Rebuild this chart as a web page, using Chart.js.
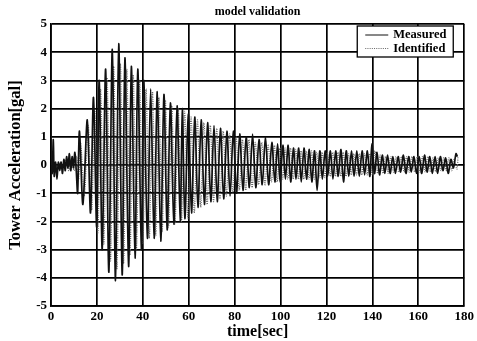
<!DOCTYPE html>
<html>
<head>
<meta charset="utf-8">
<script src="https://cdn.jsdelivr.net/npm/chart.js@4"></script>
<style>
  html, body { margin: 0; padding: 0; background: #fff; }
  #wrap { width: 477px; height: 341px; }
</style>
</head>
<body>
<div id="wrap"><canvas id="grafica" width="477" height="341"></canvas></div>
<script>
// -------------------------
// Datos (extremos)
// -------------------------
const titulo = "model validation";
const etiquetasSerie = ["Measured", "Identified"];
const ticksX = [0, 20, 40, 60, 80, 100, 120, 140, 160, 180];
const ticksY = [-5, -4, -3, -2, -1, 0, 1, 2, 3, 4, 5];

const tiempoMedido = [
  0, 0.5, 1.0, 1.4, 2.0, 2.6, 3.2, 3.8, 4.4, 5.0, 5.6, 6.2, 6.8, 7.4, 8.0, 8.6, 9.2, 9.8, 10.4, 11.0,
  11.6, 12.4, 13.9, 15.8, 17.2, 18.5, 19.9, 21.0, 22.3, 23.8, 25.2, 26.7, 28.1, 29.5, 31.0, 32.2,
  33.8, 35.0, 36.6, 37.8, 39.4, 40.4, 42.0, 43.4, 44.9, 46.3, 47.8, 49.2, 50.6, 52.0, 53.5, 54.9,
  56.3, 57.2, 58.3, 59.8, 61.2, 62.6, 64.0, 65.4, 66.8, 68.2, 69.6, 71.0, 72.4, 73.8, 75.2, 76.6,
  78.0, 79.4, 80.8, 82.2, 83.6, 85.0, 86.4, 87.8, 89.2, 90.6, 92.0, 93.4, 94.8, 96.2, 97.5, 98.7,
  99.8, 101.0, 102.1, 103.3, 104.4, 105.6, 106.7, 107.9, 109.0, 110.2, 111.3, 112.5, 113.6, 114.8,
  115.9, 117.1, 118.2, 119.4, 120.5, 121.7, 122.8, 124.0, 125.1, 126.3, 127.4, 128.6, 129.7, 130.9,
  132.0, 133.2, 134.3, 135.5, 136.6, 137.8, 138.9, 139.8, 140.9, 142.0, 143.1, 144.3, 145.4, 146.6,
  147.7, 148.9, 150.0, 151.2, 152.3, 153.5, 154.6, 155.8, 156.9, 158.1, 159.2, 160.4, 161.5, 162.7,
  163.8, 165.0, 166.1, 167.3, 168.4, 169.6, 170.7, 171.9, 173.0, 174.2, 175.3, 176.4, 177.0
];
const valorMedido = [
  0, -0.3, 0.9, -0.4, 0.1, -0.5, 0.1, -0.2, 0.1, -0.3, 0.2, -0.2, 0.3, -0.1, 0.4, -0.2, 0.3, -0.1, 0.45, -0.2,
  -1.0, 1.2, -1.4, 1.6, -1.7, 2.4, -2.2, 3.0, -3.0, 3.4, -3.8, 4.1, -4.1, 4.3, -3.9, 3.8,
  -3.6, 3.5, -3.3, 3.4, -3.0, 3.0, -2.6, 2.7, -2.6, 2.6, -2.7, 2.5, -2.3, 2.2, -2.1, 2.1,
  -2.0, 2.0, -1.9, 1.8, -1.7, 1.7, -1.5, 1.6, -1.4, 1.5, -1.3, 1.4, -1.3, 1.3, -1.2, 1.2,
  -1.1, 1.2, -1.0, 1.1, -0.9, 1.0, -0.8, 1.1, -0.8, 0.9, -0.7, 1.0, -0.7, 0.8, -0.6, 0.75,
  -0.6, 0.7, -0.5, 0.7, -0.6, 0.6, -0.5, 0.6, -0.6, 0.6, -0.5, 0.55, -0.6, 0.5,
  -0.9, 0.5, -0.5, 0.5, -0.4, 0.5, -0.5, 0.5, -0.4, 0.55, -0.6, 0.5, -0.4, 0.5,
  -0.4, 0.5, -0.4, 0.5, -0.35, 0.5, -0.4, 0.75, -0.3, 0.45, -0.35, 0.35, -0.3, 0.35,
  -0.3, 0.3, -0.3, 0.3, -0.25, 0.35, -0.3, 0.3, -0.25, 0.3, -0.3, 0.3, -0.3, 0.35,
  -0.25, 0.3, -0.3, 0.3, -0.3, 0.3, -0.2, 0.25, -0.3, 0.2, -0.1, 0.4, 0.3
];

const tiempoIdentificado = [
  0, 0.8, 1.7, 2.9, 4.1, 5.3, 6.5, 7.7, 8.9, 10.1, 11.2, 12.0, 12.9, 14.5, 16.2, 17.7, 19.1, 20.4,
  21.6, 23.0, 24.4, 25.9, 27.3, 28.7, 30.2, 31.6, 33.0, 34.4, 35.8, 37.2, 38.6, 40.0, 41.4, 42.8,
  44.2, 45.6, 47.0, 48.4, 49.8, 51.2, 52.6, 54.0, 55.4, 56.8, 58.2, 59.6, 61.0, 62.4, 63.8, 65.2,
  66.6, 68.0, 69.4, 70.8, 72.2, 73.6, 75.0, 76.4, 77.8, 79.2, 80.6, 82.0, 83.4, 84.8, 86.2, 87.6,
  89.0, 90.4, 91.8, 93.2, 94.6, 96.0, 97.3, 98.5, 99.7, 100.9, 102.0, 103.2, 104.3, 105.5, 106.6,
  107.8, 108.9, 110.1, 111.2, 112.4, 113.5, 114.7, 115.8, 117.0, 118.1, 119.3, 120.4, 121.6, 122.7,
  123.9, 125.0, 126.2, 127.3, 128.5, 129.6, 130.8, 131.9, 133.1, 134.2, 135.4, 136.5, 137.7, 138.8,
  140.0, 141.1, 142.3, 143.4, 144.6, 145.7, 146.9, 148.0, 149.2, 150.3, 151.5, 152.6, 153.8, 154.9,
  156.1, 157.2, 158.4, 159.5, 160.7, 161.8, 163.0, 164.1, 165.3, 166.4, 167.6, 168.7, 169.9, 171.0,
  172.2, 173.3, 174.5, 175.6, 176.8, 177.3
];
const valorIdentificado = [
  0, -0.1, 0.1, -0.1, 0.1, -0.1, 0.2, -0.2, 0.2, -0.2, 0.3, -0.5, 0.8, -1.1, 1.4, -1.6, 2.0, -2.4,
  2.7, -2.8, 3.1, -3.4, 3.5, -3.7, 3.6, -3.5, 3.4, -3.2, 3.2, -3.0, 3.0, -2.8, 2.7, -2.6,
  2.6, -2.5, 2.4, -2.4, 2.3, -2.2, 2.1, -2.1, 2.0, -2.0, 1.9, -1.9, 1.7, -1.7, 1.6, -1.5,
  1.5, -1.4, 1.4, -1.3, 1.3, -1.2, 1.2, -1.1, 1.1, -1.0, 1.0, -0.9, 0.9, -0.9, 0.9, -0.8,
  0.8, -0.7, 0.8, -0.7, 0.7, -0.6, 0.7, -0.6, 0.6, -0.5, 0.6, -0.5, 0.6, -0.5, 0.55,
  -0.5, 0.5, -0.5, 0.5, -0.5, 0.5, -0.5, 0.45, -0.45, 0.45, -0.45, 0.45, -0.4, 0.45,
  -0.4, 0.45, -0.4, 0.45, -0.4, 0.4, -0.35, 0.4, -0.35, 0.4, -0.35, 0.4, -0.35, 0.4,
  -0.35, 0.5, -0.3, 0.35, -0.3, 0.3, -0.3, 0.3, -0.25, 0.3, -0.25, 0.3, -0.25, 0.3,
  -0.25, 0.3, -0.25, 0.3, -0.25, 0.3, -0.25, 0.3, -0.25, 0.25, -0.25, 0.25, -0.2, 0.25,
  -0.2, 0.25, -0.2, 0.2, -0.15, 0.3
];

// -------------------------
// Construcción de la gráfica
// -------------------------
const fuente = "'Liberation Serif', 'DejaVu Serif', serif";

const puntosMedido = tiempoMedido.map((t, i) => ({ x: t, y: valorMedido[i] }));
const puntosIdentificado = tiempoIdentificado.map((t, i) => ({ x: t, y: valorIdentificado[i] }));

// leyenda en recuadro dentro del área (estilo MATLAB)
const leyendaInterna = {
  id: 'leyendaInterna',
  afterDraw(chart) {
    const ctx = chart.ctx;
    const area = chart.chartArea;
    const x0 = area.right - 107, y0 = area.top + 2, w = 96, h = 31;
    ctx.save();
    ctx.fillStyle = '#fff';
    ctx.fillRect(x0, y0, w, h);
    ctx.strokeStyle = '#000';
    ctx.lineWidth = 1.3;
    ctx.strokeRect(x0, y0, w, h);
    ctx.font = "bold 12.5px " + fuente;
    ctx.textBaseline = 'middle';
    chart.data.datasets.forEach((ds, i) => {
      const yy = y0 + 9 + i * 13.5;
      ctx.beginPath();
      ctx.strokeStyle = ds.borderColor;
      ctx.lineWidth = 1;
      ctx.setLineDash(ds.borderDash || []);
      ctx.moveTo(x0 + 8, yy);
      ctx.lineTo(x0 + 31, yy);
      ctx.stroke();
      ctx.setLineDash([]);
      ctx.fillStyle = '#000';
      ctx.fillText(ds.label, x0 + 36, yy);
    });
    ctx.restore();
  }
};

new Chart(document.getElementById('grafica'), {
  type: 'line',
  data: {
    datasets: [
      {
        label: etiquetasSerie[0],
        data: puntosMedido,
        borderColor: '#111',
        borderWidth: 1.7,
        pointRadius: 0,
        tension: 0.3,
        fill: false
      },
      {
        label: etiquetasSerie[1],
        data: puntosIdentificado,
        borderColor: '#666',
        borderWidth: 1.3,
        borderDash: [1, 1.2],
        pointRadius: 0,
        tension: 0.3,
        fill: false
      }
    ]
  },
  options: {
    responsive: false,
    animation: false,
    layout: { padding: { top: 24, right: 10, left: 6, bottom: 0 } },
    plugins: {
      legend: { display: false },
      tooltip: { enabled: false },
      title: { display: false }
    },
    scales: {
      x: {
        type: 'linear',
        min: 0,
        max: 180,
        afterBuildTicks: s => { s.ticks = ticksX.map(v => ({ value: v })); },
        afterFit: s => { s.height = 35; },
        ticks: { color: '#000', font: { family: fuente, size: 13, weight: 'bold' }, padding: 3, maxRotation: 0 },
        grid: { color: '#000', lineWidth: 1.7, drawTicks: false },
        border: { color: '#000', width: 1.7 },
        title: { display: true, text: 'time[sec]', color: '#000', font: { family: fuente, size: 16, weight: 'bold' }, padding: 0 }
      },
      y: {
        min: -5,
        max: 5,
        afterBuildTicks: s => { s.ticks = ticksY.map(v => ({ value: v })); },
        afterFit: s => { s.width = 45; },
        ticks: { color: '#000', font: { family: fuente, size: 13, weight: 'bold' }, padding: 4 },
        grid: { color: '#000', lineWidth: 1.7, drawTicks: false },
        border: { color: '#000', width: 1.7 },
        title: { display: true, text: 'Tower Acceleration[gal]', color: '#000', font: { family: fuente, size: 16.5, weight: 'bold' }, padding: 0 }
      }
    }
  },
  plugins: [leyendaInterna, {
    id: 'tituloArriba',
    afterDraw(chart) {
      const ctx = chart.ctx;
      const area = chart.chartArea;
      ctx.save();
      ctx.font = "bold 12px " + fuente;
      ctx.fillStyle = '#000';
      ctx.textAlign = 'center';
      ctx.textBaseline = 'middle';
      ctx.fillText(titulo, (area.left + area.right) / 2, 12);
      ctx.restore();
    }
  }]
});
</script>
</body>
</html>
